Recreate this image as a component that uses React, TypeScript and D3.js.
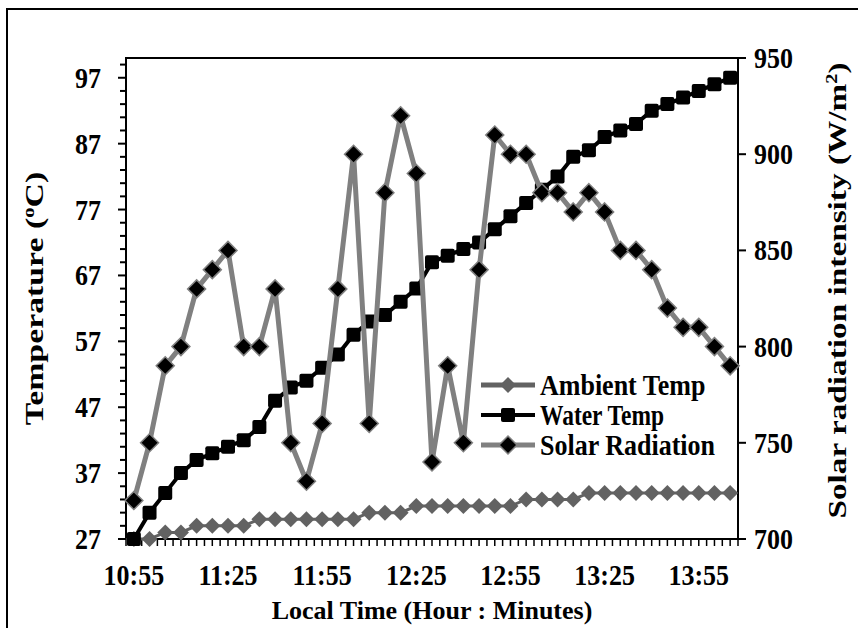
import { useEffect, useRef } from 'react';
import * as d3 from 'd3';

// categories: local time every 5 minutes
const times = [
  '10:55', '11:00', '11:05', '11:10', '11:15', '11:20', '11:25', '11:30', '11:35', '11:40',
  '11:45', '11:50', '11:55', '12:00', '12:05', '12:10', '12:15', '12:20', '12:25', '12:30',
  '12:35', '12:40', '12:45', '12:50', '12:55', '13:00', '13:05', '13:10', '13:15', '13:20',
  '13:25', '13:30', '13:35', '13:40', '13:45', '13:50', '13:55', '14:00', '14:05',
];
const timeLabels = ['10:55', '11:25', '11:55', '12:25', '12:55', '13:25', '13:55'];

const ambientTemp = [
  27, 27, 28, 28, 29, 29, 29, 29, 30, 30, 30, 30, 30, 30, 30, 31, 31, 31, 32, 32,
  32, 32, 32, 32, 32, 33, 33, 33, 33, 34, 34, 34, 34, 34, 34, 34, 34, 34, 34,
];
const waterTemp = [
  27, 31, 34, 37, 39, 40, 41, 42, 44, 48, 50, 51, 53, 55, 58, 60, 61, 63, 65, 69,
  70, 71, 72, 74, 76, 78, 80, 82, 85, 86, 88, 89, 90, 92, 93, 94, 95, 96, 97,
];
const solarRadiation = [
  720, 750, 790, 800, 830, 840, 850, 800, 800, 830, 750, 730, 760, 830, 900, 760, 880, 920, 890, 740,
  790, 750, 840, 910, 900, 900, 880, 880, 870, 880, 870, 850, 850, 840, 820, 810, 810, 800, 790,
];

const tempTicks = [27, 37, 47, 57, 67, 77, 87, 97];
const solarTicks = [700, 750, 800, 850, 900, 950];

const legendItems = ['Ambient Temp', 'Water Temp', 'Solar Radiation'];

const W = 858;
const H = 628;
const FONT = "'Liberation Serif', 'Times New Roman', serif";
const SY = 1.15; // the picture's text is stretched vertically

const App = () => {
  const svgRef = useRef<SVGSVGElement>(null);

  useEffect(() => {
    const svg = d3.select(svgRef.current);
    svg.selectAll('*').remove();

    const left = 126, right = 738, top = 58, bottom = 539;

    const x = d3.scaleBand().domain(times).range([left, right]).padding(0);
    const cx = (t: string) => (x(t) as number) + x.bandwidth() / 2;
    const yL = d3.scaleLinear().domain([27, 100]).range([bottom, top]);
    const yR = d3.scaleLinear().domain([700, 950]).range([bottom, top]);

    const label = (g: any, tx: number, ty: number, anchor: string, txt: string, sy = SY) =>
      g.append('text')
        .attr('transform', `translate(${tx},${ty}) scale(1,${sy})`)
        .attr('text-anchor', anchor)
        .style('font-family', FONT).style('font-weight', 'bold').style('font-size', '26px')
        .text(txt);

    // outer frame (right and bottom run off the picture)
    svg.append('path')
      .attr('d', `M7,${H + 5}V9H${W + 5}`)
      .attr('fill', 'none')
      .attr('stroke', '#000')
      .attr('stroke-width', 2);

    // plot box
    svg.append('rect')
      .attr('x', left).attr('y', top)
      .attr('width', right - left).attr('height', bottom - top)
      .attr('fill', 'none').attr('stroke', '#000').attr('stroke-width', 2);

    // left axis: minor every 2, major every 10
    const minorL = d3.range(29, 100, 2).filter(v => !tempTicks.includes(v));
    svg.append('g').selectAll('line').data(minorL).enter().append('line')
      .attr('x1', left - 6).attr('x2', left)
      .attr('y1', d => yL(d)).attr('y2', d => yL(d))
      .attr('stroke', '#000').attr('stroke-width', 2);
    svg.append('g').selectAll('line').data(tempTicks).enter().append('line')
      .attr('x1', left - 8).attr('x2', left)
      .attr('y1', d => yL(d)).attr('y2', d => yL(d))
      .attr('stroke', '#000').attr('stroke-width', 2);
    const gl = svg.append('g');
    tempTicks.forEach(v => label(gl, left - 25, yL(v) + 10, 'end', String(v)));

    // right axis
    svg.append('g').selectAll('line').data(solarTicks).enter().append('line')
      .attr('x1', right).attr('x2', right + 8)
      .attr('y1', d => yR(d)).attr('y2', d => yR(d))
      .attr('stroke', '#000').attr('stroke-width', 2);
    const gr = svg.append('g');
    solarTicks.forEach(v => label(gr, right + 16, yR(v) + 10, 'start', String(v)));

    // bottom axis: ticks every half category
    const bw = x.bandwidth();
    const xTicks = d3.range(0, times.length * 2 + 1).map(k => left + (k * bw) / 2);
    svg.append('g').selectAll('line').data(xTicks).enter().append('line')
      .attr('x1', d => d).attr('x2', d => d)
      .attr('y1', bottom).attr('y2', bottom + 7)
      .attr('stroke', '#000').attr('stroke-width', 1.5);
    const gx = svg.append('g');
    timeLabels.forEach(t => label(gx, cx(t), 585, 'middle', t));

    // axis titles
    label(svg, (left + right) / 2, 619, 'middle', 'Local Time (Hour : Minutes)', 1);

    const lt = svg.append('text')
      .attr('transform', `translate(43,${(top + bottom) / 2}) rotate(-90) scale(1.3,1)`)
      .attr('text-anchor', 'middle')
      .style('font-family', FONT).style('font-weight', 'bold').style('font-size', '26px');
    lt.append('tspan').text('Temperature (');
    lt.append('tspan').attr('dy', -9).style('font-size', '16px').text('o');
    lt.append('tspan').attr('dy', 9).text('C)');

    const rt = svg.append('text')
      .attr('transform', `translate(846,${(top + bottom) / 2 - 8}) rotate(-90) scale(1.28,1)`)
      .attr('text-anchor', 'middle')
      .style('font-family', FONT).style('font-weight', 'bold').style('font-size', '26px');
    rt.append('tspan').text('Solar radiation intensity (W/m');
    rt.append('tspan').attr('dy', -9).style('font-size', '16px').text('2');
    rt.append('tspan').attr('dy', 9).text(')');

    const diamond = (r: number) => `M0,${-r}L${r},0L0,${r}L${-r},0Z`;

    // Ambient Temp
    const ambPts = times.map((t, i) => [cx(t), yL(ambientTemp[i])] as [number, number]);
    svg.append('path')
      .attr('d', d3.line()(ambPts))
      .attr('fill', 'none').attr('stroke', '#626262').attr('stroke-width', 3);
    svg.append('g').selectAll('path').data(ambPts).enter().append('path')
      .attr('transform', d => `translate(${d[0]},${d[1]})`)
      .attr('d', diamond(8))
      .attr('fill', '#626262');

    // Water Temp
    const watPts = times.map((t, i) => [cx(t), yL(waterTemp[i])] as [number, number]);
    svg.append('path')
      .attr('d', d3.line()(watPts))
      .attr('fill', 'none').attr('stroke', '#000').attr('stroke-width', 4);
    svg.append('g').selectAll('rect').data(watPts).enter().append('rect')
      .attr('x', d => d[0] - 7).attr('y', d => d[1] - 7)
      .attr('width', 14).attr('height', 14).attr('rx', 2)
      .attr('fill', '#000');

    // Solar Radiation
    const solPts = times.map((t, i) => [cx(t), yR(solarRadiation[i])] as [number, number]);
    svg.append('path')
      .attr('d', d3.line()(solPts))
      .attr('fill', 'none').attr('stroke', '#808080').attr('stroke-width', 5)
      .attr('stroke-linejoin', 'round');
    svg.append('g').selectAll('path').data(solPts).enter().append('path')
      .attr('transform', d => `translate(${d[0]},${d[1]})`)
      .attr('d', diamond(9))
      .attr('fill', '#000').attr('stroke', '#808080').attr('stroke-width', 1.5);

    // legend
    const lg = svg.append('g');
    legendItems.forEach((name, i) => {
      const ly = 385 + i * 30;
      const col = i === 0 ? '#626262' : i === 1 ? '#000' : '#808080';
      lg.append('line')
        .attr('x1', 481).attr('x2', 535).attr('y1', ly).attr('y2', ly)
        .attr('stroke', col).attr('stroke-width', i === 1 ? 4 : 5);
      if (i === 0) {
        lg.append('path').attr('transform', `translate(508,${ly})`).attr('d', diamond(8)).attr('fill', '#626262');
      } else if (i === 1) {
        lg.append('rect').attr('x', 501).attr('y', ly - 7).attr('width', 14).attr('height', 14)
          .attr('rx', 2).attr('fill', '#000');
      } else {
        lg.append('path').attr('transform', `translate(508,${ly})`).attr('d', diamond(9))
          .attr('fill', '#000').attr('stroke', '#808080').attr('stroke-width', 1.5);
      }
      const t = label(lg, 540, ly + 10, 'start', name, 1.1);
      if (i === 1) t.attr('textLength', 124).attr('lengthAdjust', 'spacingAndGlyphs');
    });
  }, []);

  return (
    <svg
      ref={svgRef}
      width={W}
      height={H}
      style={{ position: 'absolute', left: 0, top: 0, background: '#fff' }}
    />
  );
};

export default App;
